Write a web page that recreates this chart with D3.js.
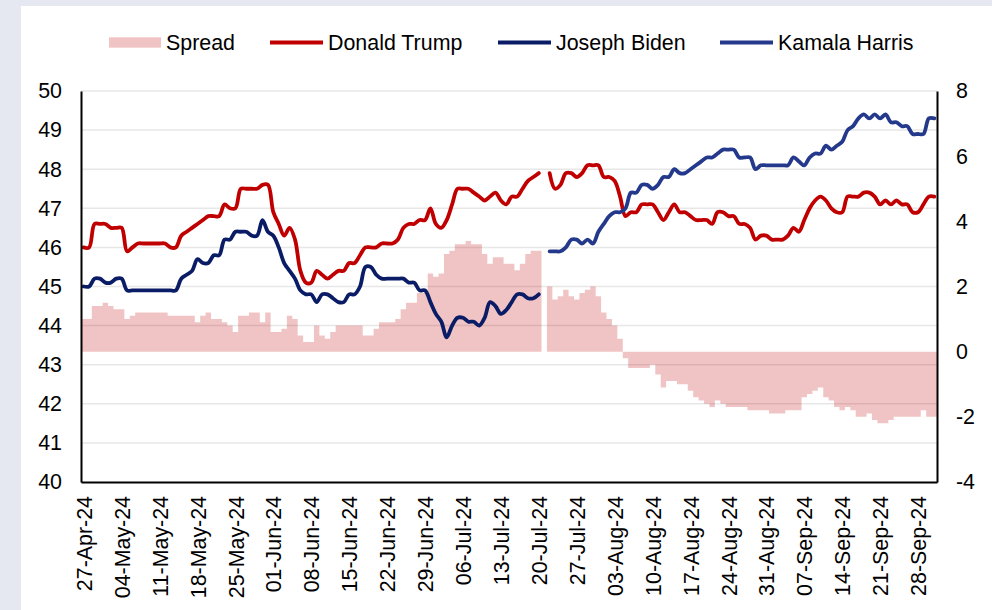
<!DOCTYPE html>
<html>
<head>
<meta charset="utf-8">
<script src="https://cdn.jsdelivr.net/npm/d3@7/dist/d3.min.js"></script>
<style>
  html, body { margin: 0; padding: 0; background: #e5e8f1; }
  svg { display: block; }
  text { font-family: "Liberation Sans", Arial, sans-serif; fill: #000; }
</style>
</head>
<body>
<svg id="chart" width="992" height="610"></svg>
<script>
// ---------------- DATA ----------------
const startDate = new Date(2024, 3, 27);   // 27-Apr-24
const endDate = new Date(2024, 9, 2);      // exclusive (last day 01-Oct-24)

const trump = [
  46.0, 46.0, 46.6, 46.6, 46.6, 46.5, 46.5, 46.5, 45.9, 46.0,
  46.1, 46.1, 46.1, 46.1, 46.1, 46.1, 46.0, 46.0, 46.3, 46.4,
  46.5, 46.6, 46.7, 46.8, 46.8, 46.8, 47.1, 47.0, 47.0, 47.5,
  47.5, 47.5, 47.5, 47.6, 47.6, 46.9, 46.6, 46.3, 46.5, 46.2,
  45.4, 45.1, 45.1, 45.4, 45.3, 45.2, 45.3, 45.4, 45.4, 45.6,
  45.6, 45.8, 46.0, 46.0, 46.0, 46.1, 46.1, 46.1, 46.2, 46.5,
  46.6, 46.6, 46.7, 46.7, 47.0, 46.6, 46.5, 46.7, 47.1, 47.5,
  47.5, 47.5, 47.4, 47.3, 47.2, 47.3, 47.4, 47.2, 47.1, 47.3,
  47.3, 47.5, 47.7, 47.8, 47.9, null, 47.9, 47.5, 47.6, 47.9,
  47.9, 47.8, 47.9, 48.1, 48.1, 48.1, 47.8, 47.8, 47.7, 47.3,
  46.8, 46.9, 46.9, 47.1, 47.1, 47.1, 46.9, 46.7, 46.9, 47.1,
  46.9, 46.9, 46.8, 46.7, 46.7, 46.7, 46.6, 46.9, 46.9, 46.8,
  46.8, 46.6, 46.6, 46.5, 46.2, 46.3, 46.3, 46.2, 46.2, 46.2,
  46.3, 46.5, 46.4, 46.7, 47.0, 47.2, 47.3, 47.2, 47.0, 46.9,
  46.9, 47.3, 47.3, 47.3, 47.4, 47.4, 47.3, 47.1, 47.2, 47.1,
  47.2, 47.1, 47.1, 46.9, 46.9, 47.1, 47.3, 47.3
];

// Joseph Biden: 27-Apr-24 .. 20-Jul-24
const bidenStart = 0;
const biden = [
  45.0, 45.0, 45.2, 45.2, 45.1, 45.1, 45.2, 45.2, 44.9, 44.9,
  44.9, 44.9, 44.9, 44.9, 44.9, 44.9, 44.9, 44.9, 45.2, 45.3,
  45.4, 45.7, 45.6, 45.6, 45.8, 45.8, 46.2, 46.2, 46.4, 46.4,
  46.4, 46.3, 46.3, 46.7, 46.4, 46.3, 46.0, 45.6, 45.4, 45.2,
  44.9, 44.8, 44.8, 44.6, 44.8, 44.8, 44.7, 44.6, 44.6, 44.8,
  44.8, 45.0, 45.5, 45.5, 45.3, 45.2, 45.2, 45.2, 45.2, 45.2,
  45.1, 45.1, 44.9, 44.9, 44.6, 44.3, 44.1, 43.7, 44.0, 44.2,
  44.2, 44.1, 44.1, 44.0, 44.2, 44.6, 44.5, 44.3, 44.4, 44.6,
  44.8, 44.8, 44.7, 44.7, 44.8
];

// Kamala Harris: 22-Jul-24 .. 01-Oct-24
const harrisStart = 86;
const harris = [
  45.9, 45.9, 45.9, 46.0,
  46.2, 46.2, 46.1, 46.2, 46.1, 46.4, 46.6, 46.8, 46.9, 46.9,
  47.0, 47.4, 47.4, 47.6, 47.6, 47.5, 47.6, 47.8, 47.8, 48.0,
  47.9, 47.9, 48.0, 48.1, 48.2, 48.3, 48.3, 48.4, 48.5, 48.5,
  48.5, 48.3, 48.3, 48.3, 48.0, 48.1, 48.1, 48.1, 48.1, 48.1,
  48.1, 48.3, 48.2, 48.1, 48.3, 48.4, 48.4, 48.6, 48.5, 48.6,
  48.7, 49.0, 49.1, 49.3, 49.4, 49.3, 49.4, 49.3, 49.4, 49.2,
  49.2, 49.1, 49.1, 48.9, 48.9, 48.9, 49.3, 49.3
];

// Spread (right axis)
const spread = [
  1.0, 1.0, 1.4, 1.4, 1.5, 1.4, 1.3, 1.3, 1.0, 1.1,
  1.2, 1.2, 1.2, 1.2, 1.2, 1.2, 1.1, 1.1, 1.1, 1.1,
  1.1, 0.9, 1.1, 1.2, 1.0, 1.0, 0.9, 0.8, 0.6, 1.1,
  1.1, 1.2, 1.2, 0.9, 1.2, 0.6, 0.6, 0.7, 1.1, 1.0,
  0.5, 0.3, 0.3, 0.8, 0.5, 0.4, 0.6, 0.8, 0.8, 0.8,
  0.8, 0.8, 0.5, 0.5, 0.7, 0.9, 0.9, 0.9, 1.0, 1.3,
  1.5, 1.5, 1.8, 1.8, 2.4, 2.3, 2.4, 3.0, 3.1, 3.3,
  3.3, 3.4, 3.3, 3.3, 3.0, 2.7, 2.9, 2.9, 2.7, 2.7,
  2.5, 2.7, 3.0, 3.1, 3.1, null, 2.0, 1.6, 1.7, 1.9,
  1.7, 1.6, 1.8, 1.9, 2.0, 1.7, 1.2, 1.0, 0.8, 0.4,
  -0.2, -0.5, -0.5, -0.5, -0.5, -0.4, -0.7, -1.1, -0.9, -0.9,
  -1.0, -1.0, -1.2, -1.4, -1.5, -1.6, -1.7, -1.5, -1.6, -1.7,
  -1.7, -1.7, -1.7, -1.8, -1.8, -1.8, -1.8, -1.9, -1.9, -1.9,
  -1.8, -1.8, -1.8, -1.4, -1.3, -1.2, -1.1, -1.4, -1.5, -1.7,
  -1.8, -1.7, -1.8, -2.0, -2.0, -1.9, -2.1, -2.2, -2.2, -2.1,
  -2.0, -2.0, -2.0, -2.0, -2.0, -1.8, -2.0, -2.0
];

const tickLabels = [
  "27-Apr-24", "04-May-24", "11-May-24", "18-May-24", "25-May-24",
  "01-Jun-24", "08-Jun-24", "15-Jun-24", "22-Jun-24", "29-Jun-24",
  "06-Jul-24", "13-Jul-24", "20-Jul-24", "27-Jul-24", "03-Aug-24",
  "10-Aug-24", "17-Aug-24", "24-Aug-24", "31-Aug-24", "07-Sep-24",
  "14-Sep-24", "21-Sep-24", "28-Sep-24"
];
const leftTicks = [40, 41, 42, 43, 44, 45, 46, 47, 48, 49, 50];
const rightTicks = [-4, -2, 0, 2, 4, 6, 8];

const seriesNames = ["Spread", "Donald Trump", "Joseph Biden", "Kamala Harris"];
const colors = { trump: "#c00000", biden: "#0a1c66", harris: "#24398b", spread: "#c00000" };

// ---------------- LAYOUT ----------------
const W = 992, H = 610;
const M = { left: 81, right: 937, top: 91, bottom: 482 };

const dates = d3.timeDay.range(startDate, endDate);
const fmt = d3.timeFormat("%d-%b-%y");
const keys = dates.map(d => fmt(d));

const svg = d3.select("#chart");

// white panel
svg.append("rect").attr("x", 21).attr("y", 6).attr("width", W).attr("height", H)
  .attr("fill", "#ffffff");

const x = d3.scaleBand().domain(keys).range([M.left, M.right]).padding(0);
const bw = x.bandwidth();
const yL = d3.scaleLinear().domain([40, 50]).range([M.bottom, M.top]);
const yR = d3.scaleLinear().domain([-4, 8]).range([M.bottom, M.top]);

// gridlines
svg.append("g").selectAll("line").data(leftTicks.filter(v => v > 40)).join("line")
  .attr("x1", M.left).attr("x2", M.right)
  .attr("y1", d => yL(d)).attr("y2", d => yL(d))
  .attr("stroke", "#e7e7e7").attr("stroke-width", 1.5);

// spread bars as step areas per contiguous run
const runs = [];
let cur = null;
spread.forEach((v, i) => {
  if (v == null) { cur = null; return; }
  if (!cur) { cur = []; runs.push(cur); }
  cur.push({ x: x(keys[i]), v: v });
});
runs.forEach(r => { const last = r[r.length - 1]; r.push({ x: last.x + bw, v: last.v }); });

const area = d3.area().curve(d3.curveStepAfter)
  .x(d => d.x).y0(yR(0)).y1(d => yR(d.v));
svg.append("g").selectAll("path").data(runs).join("path")
  .attr("d", area).attr("fill", colors.spread).attr("fill-opacity", 0.23);

// lines
const cx = i => x(keys[i]) + bw / 2;
const line = d3.line().defined(d => d.v != null)
  .curve(d3.curveCatmullRom.alpha(0.5))
  .x(d => cx(d.i)).y(d => yL(d.v));

function seg(arr, off) { return arr.map((v, k) => ({ i: k + off, v: v })); }

const trumpPts = seg(trump, 0);
const lineG = svg.append("g").attr("fill", "none").attr("stroke-linejoin", "round").attr("stroke-linecap", "round");
lineG.append("path").attr("d", line(trumpPts)).attr("stroke", colors.trump).attr("stroke-width", 3.8);
lineG.append("path").attr("d", line(seg(biden, bidenStart))).attr("stroke", colors.biden).attr("stroke-width", 3.8);
lineG.append("path").attr("d", line(seg(harris, harrisStart))).attr("stroke", colors.harris).attr("stroke-width", 3.8);

// axes
const fs = "21.4px";
const gL = svg.append("g").attr("transform", `translate(${M.left},0)`)
  .call(d3.axisLeft(yL).tickValues(leftTicks).tickFormat(d3.format("d")).tickSize(0).tickPadding(19));
const gR = svg.append("g").attr("transform", `translate(${M.right},0)`)
  .call(d3.axisRight(yR).tickValues(rightTicks).tickFormat(d => d < 0 ? "-" + Math.abs(d) : d).tickSize(0).tickPadding(19));
const tickKeys = keys.filter((k, i) => i % 7 === 0);
const gB = svg.append("g").attr("transform", `translate(0,${M.bottom})`)
  .call(d3.axisBottom(x).tickValues(tickKeys).tickFormat((k, i) => tickLabels[i]).tickSize(0));

[gL, gR, gB].forEach(g => {
  g.select(".domain").attr("stroke", "#000").attr("stroke-width", 2);
  g.selectAll("text").style("font-size", fs).attr("fill", "#000")
    .style("font-family", '"Liberation Sans", Arial, sans-serif');
});
gB.selectAll("text")
  .attr("transform", "rotate(-90)")
  .attr("x", -14).attr("y", 0).attr("dy", "0.38em")
  .attr("text-anchor", "end");

// legend
const lg = svg.append("g");
const ly = 42.5;
lg.append("rect").attr("x", 109).attr("y", 37.3).attr("width", 52).attr("height", 10.4)
  .attr("fill", colors.spread).attr("fill-opacity", 0.23);
const legendItems = [
  { name: seriesNames[1], color: colors.trump, x1: 270, x2: 323, tx: 328 },
  { name: seriesNames[2], color: colors.biden, x1: 498, x2: 551, tx: 556 },
  { name: seriesNames[3], color: colors.harris, x1: 720, x2: 773, tx: 778 }
];
lg.append("text").attr("x", 166).attr("y", ly).attr("dy", "0.35em").style("font-size", fs).text(seriesNames[0]);
legendItems.forEach(it => {
  lg.append("line").attr("x1", it.x1).attr("x2", it.x2).attr("y1", ly).attr("y2", ly)
    .attr("stroke", it.color).attr("stroke-width", 4);
  lg.append("text").attr("x", it.tx).attr("y", ly).attr("dy", "0.35em").style("font-size", fs).text(it.name);
});
</script>
</body>
</html>
